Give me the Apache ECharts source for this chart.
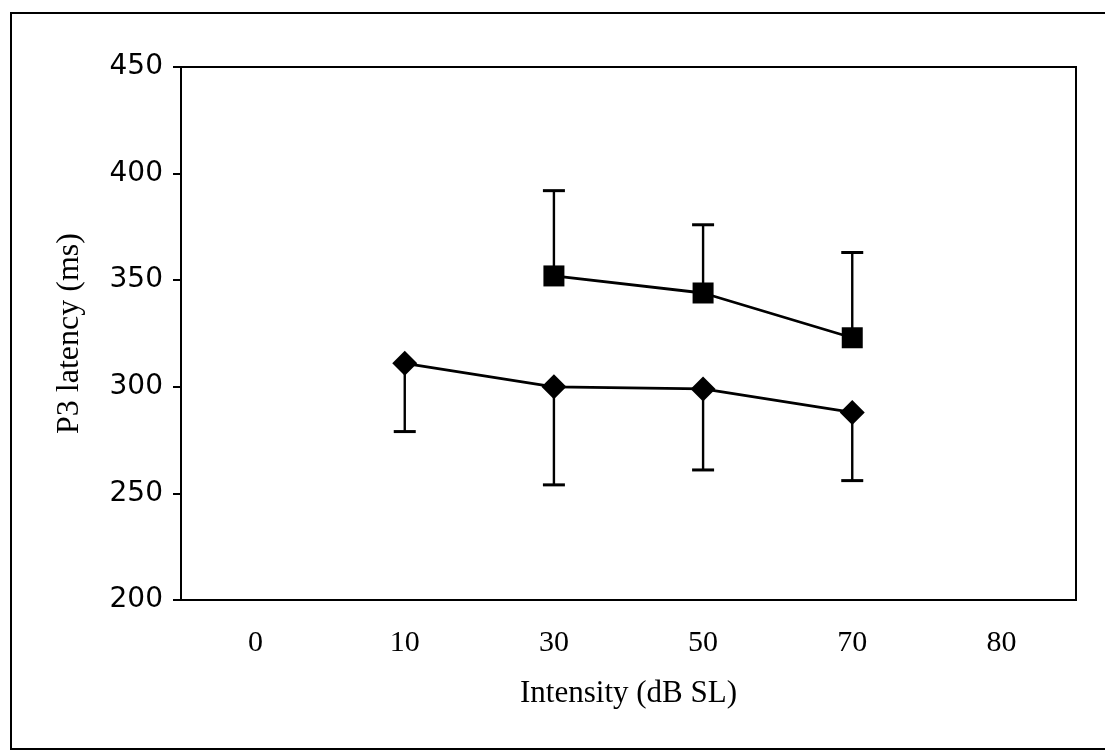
<!DOCTYPE html>
<html>
<head>
<meta charset="utf-8">
<script src="https://cdn.jsdelivr.net/npm/echarts@6/dist/echarts.min.js"></script>
<style>
  html, body { margin: 0; padding: 0; background: #fff; }
  #chart { width: 1105px; height: 752px; }
</style>
</head>
<body>
<div id="chart"></div>
<script>
// intensity categories (dB SL)
var categories = ['0', '10', '30', '50', '70', '80'];
// diamond series: mean latency and lower end of error bar
var diamondMean = [null, 311, 300, 299, 288, null];
var diamondLow  = [null, 279, 254, 261, 256, null];
// square series: mean latency and upper end of error bar
var squareMean  = [null, null, 352, 344, 323, null];
var squareHigh  = [null, null, 392, 376, 363, null];
var yTicks = [200, 250, 300, 350, 400, 450];

function errData(mean, end) {
    var out = [];
    for (var i = 0; i < mean.length; ++i) {
        if (mean[i] != null) out.push([i, mean[i], end[i]]);
    }
    return out;
}

function renderErr(params, api) {
    var x = api.value(0);
    var p0 = api.coord([x, api.value(1)]);
    var p1 = api.coord([x, api.value(2)]);
    var hw = 11;
    return {
        type: 'group',
        children: [
            { type: 'line', shape: { x1: p0[0], y1: p0[1], x2: p1[0], y2: p1[1] },
              style: { stroke: '#000', lineWidth: 2.4 } },
            { type: 'line', shape: { x1: p1[0] - hw, y1: p1[1], x2: p1[0] + hw, y2: p1[1] },
              style: { stroke: '#000', lineWidth: 3 } }
        ]
    };
}

var chart = echarts.init(document.getElementById('chart'));
var serif = "'Liberation Serif', 'Times New Roman', serif";

var option = {
    animation: false,
    backgroundColor: '#fff',
    graphic: [{
        type: 'rect',
        shape: { x: 11, y: 13, width: 1200, height: 736 },
        style: { fill: 'none', stroke: '#000', lineWidth: 2 },
        silent: true
    }],
    grid: {
        left: 181, right: 29, top: 67, bottom: 152,
        show: true, borderColor: '#000', borderWidth: 2, backgroundColor: 'transparent'
    },
    xAxis: {
        type: 'category',
        data: categories,
        boundaryGap: true,
        name: 'Intensity (dB SL)',
        nameLocation: 'middle',
        nameGap: 78,
        nameTextStyle: { fontFamily: serif, fontSize: 31, color: '#000' },
        axisLine: { lineStyle: { color: '#000', width: 2 } },
        axisTick: { show: false },
        axisLabel: { fontFamily: serif, fontSize: 30, color: '#000', margin: 28 },
        splitLine: { show: false }
    },
    yAxis: {
        type: 'value',
        min: yTicks[0],
        max: yTicks[yTicks.length - 1],
        interval: 50,
        name: 'P3 latency (ms)',
        nameLocation: 'middle',
        nameGap: 95,
        nameTextStyle: { fontFamily: serif, fontSize: 32, color: '#000' },
        axisLine: { show: true, lineStyle: { color: '#000', width: 2 } },
        axisTick: { show: true, length: 8, lineStyle: { color: '#000', width: 2 } },
        axisLabel: { fontFamily: "'DejaVu Sans', sans-serif", fontSize: 28, color: '#000', margin: 18 },
        splitLine: { show: false }
    },
    series: [
        {
            type: 'custom',
            renderItem: renderErr,
            encode: { x: 0, y: [1, 2] },
            data: errData(diamondMean, diamondLow),
            z: 1
        },
        {
            type: 'custom',
            renderItem: renderErr,
            encode: { x: 0, y: [1, 2] },
            data: errData(squareMean, squareHigh),
            z: 1
        },
        {
            type: 'line',
            data: diamondMean,
            symbol: 'diamond',
            symbolSize: 25,
            showAllSymbol: true,
            lineStyle: { color: '#000', width: 2.8 },
            itemStyle: { color: '#000' },
            z: 3
        },
        {
            type: 'line',
            data: squareMean,
            symbol: 'rect',
            symbolSize: 21,
            showAllSymbol: true,
            lineStyle: { color: '#000', width: 2.8 },
            itemStyle: { color: '#000' },
            z: 3
        }
    ]
};
chart.setOption(option);
</script>
</body>
</html>
